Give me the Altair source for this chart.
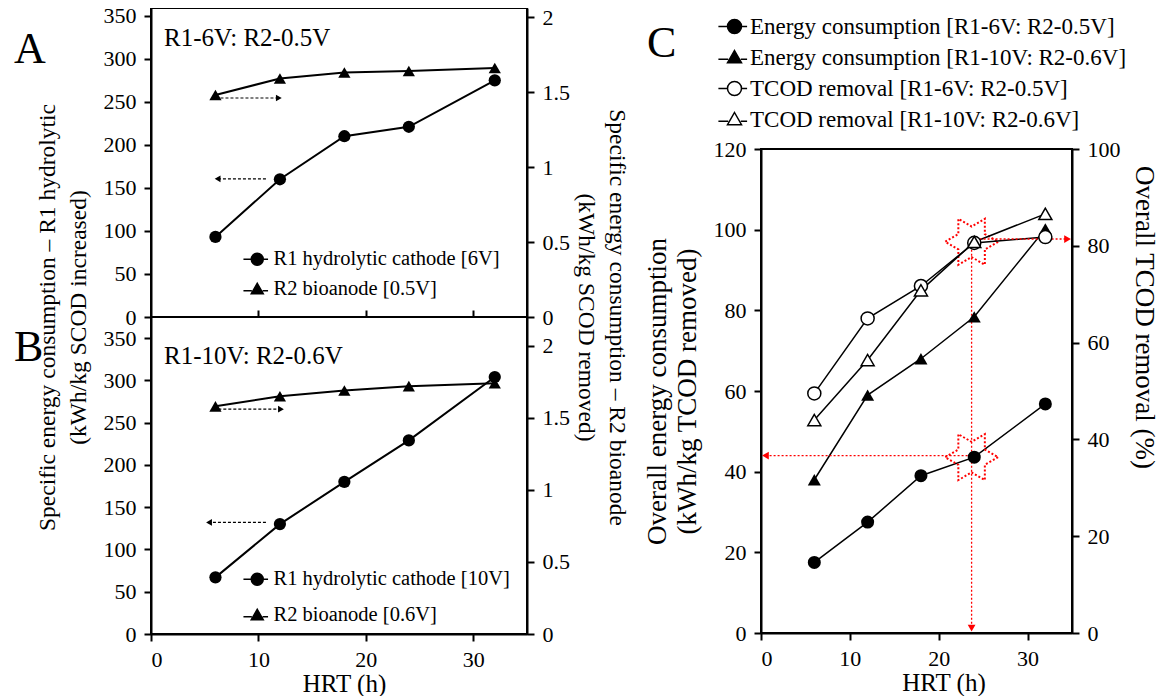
import altair as alt
import pandas as pd

FONT = "Liberation Serif, Times New Roman, Times, serif"

# ---------------- data ----------------
hrt = [6, 12, 18, 24, 32]

a_r1 = [93, 160, 210, 221, 275]          # left axis, panel A
a_r2 = [1.48, 1.59, 1.63, 1.64, 1.66]    # right axis, panel A
b_r1 = [67, 130, 180, 229, 304]          # left axis, panel B
b_r2 = [1.58, 1.65, 1.69, 1.72, 1.74]    # right axis, panel B

c_energy_6 = [17.5, 27.5, 39.0, 43.6, 56.8]
c_energy_10 = [38.0, 59.0, 68.0, 78.4, 100.2]
c_tcod_6 = [49.5, 65.0, 71.7, 80.6, 81.8]
c_tcod_10 = [44.0, 56.4, 70.8, 80.8, 86.6]

x_ticks = [0, 10, 20, 30]
ab_left_ticks = [0, 50, 100, 150, 200, 250, 300, 350]
ab_right_ticks = [0, 0.5, 1, 1.5, 2]
c_left_ticks = [0, 20, 40, 60, 80, 100, 120]
c_right_ticks = [0, 20, 40, 60, 80, 100]

a_labels = ["R1 hydrolytic cathode [6V]", "R2 bioanode [0.5V]"]
b_labels = ["R1 hydrolytic cathode [10V]", "R2 bioanode [0.6V]"]
c_labels = [
    "Energy consumption [R1-6V: R2-0.5V]",
    "Energy consumption [R1-10V: R2-0.6V]",
    "TCOD removal [R1-6V: R2-0.5V]",
    "TCOD removal [R1-10V: R2-0.6V]",
]
a_note = ["R1-6V: R2-0.5V"]
b_note = ["R1-10V: R2-0.6V"]

# guide arrows in data units: [x_start, x_end, y]
a_arrow_left = [10.7, 6.2, 160.5]
a_arrow_right = [6.0, 11.9, 1.46]
b_arrow_left = [10.7, 5.4, 132]
b_arrow_right = [5.8, 12.1, 1.56]
# panel C annotations
c_mark_x = [23.7, 23.7]
c_mark_y = [97.0, 43.6]
c_arrow_energy = [23.7, 0.5, 44.0]
c_arrow_tcod = [23.7, 34.5, 81.4]
c_arrow_down = [23.7, 96.0, 1.2]

# ---------------- shapes ----------------
CIRC_L = "M-2.3,0H-1M1,0H1.8M-1,0A1,1 0 1,1 1,0A1,1 0 1,1 -1,0Z"
TRI_L = "M-2.3,0.25H-0.9M0.9,0.25H1.8M0,-1L1,0.75L-1,0.75Z"
STAR = ("M1,0L0.5,0.289L0.5,0.866L0,0.577L-0.5,0.866L-0.5,0.289L-1,0"
        "L-0.5,-0.289L-0.5,-0.866L0,-0.577L0.5,-0.866L0.5,-0.289Z")

W_AB, H_A, H_B = 376, 309, 317
W_C, H_C = 311, 484
SPACER_H = 141

XS = alt.Scale(domain=[0, 35], nice=False)


def text_layer(txt, x, y, size, align="left", baseline="alphabetic"):
    return alt.Chart(pd.DataFrame({"t": txt})).mark_text(
        font=FONT, fontSize=size, color="black", align=align, baseline=baseline
    ).encode(text="t:N", x=alt.value(x), y=alt.value(y))


def arrow_h(vals, xenc_axis, yscale, yaxis, color, dash, head, head_size, width):
    df = pd.DataFrame({"x0": [vals[0]], "x1": [vals[1]], "y": [vals[2]]})
    rule = alt.Chart(df).mark_rule(color=color, strokeDash=dash, strokeWidth=width).encode(
        x=alt.X("x0:Q", scale=XS, axis=xenc_axis),
        x2="x1:Q",
        y=alt.Y("y:Q", scale=yscale, axis=yaxis),
    )
    tip = alt.Chart(df).mark_point(shape=head, filled=True, color=color, size=head_size, opacity=1).encode(
        x=alt.X("x1:Q", scale=XS, axis=xenc_axis),
        y=alt.Y("y:Q", scale=yscale, axis=yaxis),
    )
    return [rule, tip]


def panel_ab(r1, r2, left_max, right_max, height, labels, arr_l, arr_r, note,
             letter, letter_y, note_y, legend_y, legend_pad, bottom):
    df = pd.DataFrame({"hrt": hrt, "r1": r1, "r2": r2})
    ysl = alt.Scale(domain=[0, left_max], nice=False)
    ysr = alt.Scale(domain=[0, right_max], nice=False)
    if bottom:
        xax_l = alt.Axis(values=x_ticks, title="HRT (h)", titleFontSize=25,
                         titlePadding=1, labelPadding=8, titleX=W_AB / 2 + 5)
        xax_r = alt.Axis(orient="top", values=[10, 20, 30], labels=False,
                         domain=False, title=None)
        yax_l = alt.Axis(values=ab_left_ticks, title=None)
        yax_r = alt.Axis(orient="right", values=ab_right_ticks, format="~g", title=None)
    else:
        xax_l = None
        xax_r = None
        yax_l = alt.Axis(
            values=ab_left_ticks,
            title=["Specific energy consumption – R1 hydrolytic", "(kWh/kg SCOD increased)"],
            titleX=-104, titleY=height, titleAngle=270, titleBaseline="middle",
            titleAlign="center", titleLineHeight=31,
        )
        yax_r = alt.Axis(
            orient="right", values=ab_right_ticks, format="~g",
            title=["Specific energy consumption – R2 bioanode", "(kWh/kg SCOD removed)"],
            titleX=89, titleY=height, titleAngle=90, titleBaseline="middle",
            titleAlign="center", titleLineHeight=31,
        )
    X1 = alt.X("hrt:Q", scale=XS, axis=xax_l)
    X2 = alt.X("hrt:Q", scale=XS, axis=xax_r)
    base = alt.Chart(df)
    leg = alt.Legend(
        orient="none", legendX=96, legendY=legend_y, title=None,
        labelFont=FONT, labelFontSize=20.5, labelColor="black", labelLimit=600,
        symbolSize=144, symbolStrokeWidth=1.5,
        labelOffset=6, rowPadding=legend_pad, padding=0,
    )
    legend_layer = alt.Chart(pd.DataFrame({"series": labels})).mark_point(
        filled=False, fill="black", stroke="black", strokeWidth=1.5, opacity=1
    ).encode(
        shape=alt.Shape("series:N", scale=alt.Scale(domain=labels, range=[CIRC_L, TRI_L]), legend=leg)
    ).transform_filter("false")

    left = alt.layer(
        base.mark_line(color="black", strokeWidth=2).encode(
            x=X1, y=alt.Y("r1:Q", scale=ysl, axis=yax_l)),
        base.mark_point(shape="circle", filled=True, color="black", size=150, opacity=1).encode(
            x=X1, y=alt.Y("r1:Q", scale=ysl, axis=yax_l)),
        *arrow_h(arr_l, xax_l, ysl, yax_l, "black", [3, 2], "triangle-left", 45, 1.2),
        legend_layer,
        text_layer(note, 13, note_y, 25),
        text_layer([letter], -137, letter_y, 44),
    )
    right = alt.layer(
        base.mark_line(color="black", strokeWidth=2).encode(
            x=X2, y=alt.Y("r2:Q", scale=ysr, axis=yax_r)),
        base.mark_point(shape="triangle-up", filled=True, color="black", size=150, opacity=1).encode(
            x=X2, y=alt.Y("r2:Q", scale=ysr, axis=yax_r)),
        *arrow_h(arr_r, xax_r, ysr, yax_r, "black", [3, 2], "triangle-right", 45, 1.2),
    )
    return alt.layer(left, right).resolve_scale(x="independent", y="independent").properties(
        width=W_AB, height=height)


chart_a = panel_ab(a_r1, a_r2, 359, 2.06, H_A, a_labels, a_arrow_left, a_arrow_right,
                   a_note, "A", 55, 38, 241, 9, False)
chart_b = panel_ab(b_r1, b_r2, 375, 2.2, H_B, b_labels, b_arrow_left, b_arrow_right,
                   b_note, "B", 44, 47, 252, 15, True)

# ---------------- panel C ----------------
dfc = pd.DataFrame({"hrt": hrt, "e6": c_energy_6, "e10": c_energy_10,
                    "t6": c_tcod_6, "t10": c_tcod_10})
ycl = alt.Scale(domain=[0, 120], nice=False)
ycr = alt.Scale(domain=[0, 100], nice=False)
xc_axis = alt.Axis(values=x_ticks, title="HRT (h)", titleFontSize=25, titlePadding=1,
                   labelPadding=8, titleX=W_C / 2 + 27)
ycl_axis = alt.Axis(values=c_left_ticks,
                    title=["Overall energy consumption", "(kWh/kg TCOD removed)"],
                    titleFontSize=27,
                    titleX=-104, titleY=H_C / 2, titleAngle=270, titleBaseline="middle",
                    titleAlign="center", titleLineHeight=30)
ycr_axis = alt.Axis(orient="right", values=c_right_ticks, title="Overall TCOD removal (%)",
                    titleFontSize=27,
                    titleX=71, titleY=168, titleAngle=90, titleBaseline="middle",
                    titleAlign="center")
XC = alt.X("hrt:Q", scale=XS, axis=xc_axis)
XCR = alt.X("hrt:Q", scale=XS, axis=None)
basec = alt.Chart(dfc)

leg_c = alt.Legend(
    orient="none", legendX=-38, legendY=-134, title=None,
    labelFont=FONT, labelFontSize=23, labelColor="black", labelLimit=600,
    symbolSize=196, symbolStrokeWidth=1.5,
    labelOffset=4, rowPadding=7, padding=0,
)
c_legend_layer = alt.Chart(pd.DataFrame({"series": c_labels})).mark_point(
    filled=False, stroke="black", strokeWidth=1.5, opacity=1
).encode(
    shape=alt.Shape("series:N", scale=alt.Scale(domain=c_labels, range=[CIRC_L, TRI_L, CIRC_L, TRI_L]), legend=leg_c),
    fill=alt.Fill("series:N", scale=alt.Scale(domain=c_labels, range=["black", "black", "white", "white"]), legend=leg_c),
).transform_filter("false")

marks_df = pd.DataFrame({"x": c_mark_x, "y": c_mark_y})
down_df = pd.DataFrame({"x": [c_arrow_down[0]], "y0": [c_arrow_down[1]], "y1": [c_arrow_down[2]]})

c_left = alt.layer(
    basec.mark_line(color="black", strokeWidth=1.5).encode(x=XC, y=alt.Y("e6:Q", scale=ycl, axis=ycl_axis)),
    basec.mark_line(color="black", strokeWidth=1.5).encode(x=XC, y=alt.Y("e10:Q", scale=ycl, axis=ycl_axis)),
    *arrow_h(c_arrow_energy, xc_axis, ycl, ycl_axis, "#ff0000", [2, 2], "triangle-left", 60, 1.3),
    alt.Chart(down_df).mark_rule(color="#ff0000", strokeDash=[2, 2], strokeWidth=1.3).encode(
        x=alt.X("x:Q", scale=XS, axis=xc_axis), y=alt.Y("y0:Q", scale=ycl, axis=ycl_axis), y2="y1:Q"),
    alt.Chart(down_df).mark_point(shape="triangle-down", filled=True, color="#ff0000", size=60, opacity=1).encode(
        x=alt.X("x:Q", scale=XS, axis=xc_axis), y=alt.Y("y1:Q", scale=ycl, axis=ycl_axis)),
    alt.Chart(marks_df).mark_point(shape=STAR, filled=False, stroke="#ff0000", strokeWidth=2,
                                   strokeDash=[2, 2], size=2809, opacity=1).encode(
        x=alt.X("x:Q", scale=XS, axis=xc_axis), y=alt.Y("y:Q", scale=ycl, axis=ycl_axis)),
    basec.mark_point(shape="circle", filled=True, color="black", size=170, opacity=1).encode(
        x=XC, y=alt.Y("e6:Q", scale=ycl, axis=ycl_axis)),
    basec.mark_point(shape="triangle-up", filled=True, color="black", size=170, opacity=1).encode(
        x=XC, y=alt.Y("e10:Q", scale=ycl, axis=ycl_axis)),
    c_legend_layer,
    text_layer(["C"], -114, -92, 44),
)
c_right = alt.layer(
    basec.mark_line(color="black", strokeWidth=1.5).encode(x=XCR, y=alt.Y("t6:Q", scale=ycr, axis=ycr_axis)),
    basec.mark_line(color="black", strokeWidth=1.5).encode(x=XCR, y=alt.Y("t10:Q", scale=ycr, axis=ycr_axis)),
    *arrow_h(c_arrow_tcod, None, ycr, ycr_axis, "#ff0000", [2, 2], "triangle-right", 60, 1.3),
    basec.mark_point(shape="circle", filled=True, fill="white", stroke="black", strokeWidth=1.5,
                     size=170, opacity=1).encode(x=XCR, y=alt.Y("t6:Q", scale=ycr, axis=ycr_axis)),
    basec.mark_point(shape="triangle-up", filled=True, fill="white", stroke="black", strokeWidth=1.5,
                     size=170, opacity=1).encode(x=XCR, y=alt.Y("t10:Q", scale=ycr, axis=ycr_axis)),
)
chart_c = alt.layer(c_left, c_right).resolve_scale(x="independent", y="independent").properties(
    width=W_C, height=H_C)

spacer = alt.Chart(pd.DataFrame({"t": [""]})).mark_text().encode(text="t:N").properties(
    width=W_C, height=SPACER_H, view=alt.ViewBackground(stroke="transparent"))

left_col = alt.vconcat(chart_a, chart_b, spacing=0, bounds="flush").resolve_scale(
    shape="independent").resolve_legend(shape="independent")
right_col = alt.vconcat(spacer, chart_c, spacing=0, bounds="flush").resolve_scale(
    shape="independent", fill="independent").resolve_legend(shape="independent", fill="independent")

chart = alt.hconcat(left_col, right_col, spacing=13).resolve_scale(
    shape="independent", fill="independent"
).resolve_legend(
    shape="independent", fill="independent"
).properties(
    padding={"left": 5, "top": -5, "right": 0, "bottom": 0},
    background="white",
).configure_view(
    stroke="black", strokeWidth=2
).configure_axis(
    labelFont=FONT, labelFontSize=22, labelColor="black",
    titleFont=FONT, titleFontSize=23.5, titleFontWeight="normal", titleColor="black",
    domainColor="black", domainWidth=2, tickColor="black", tickWidth=2, tickSize=7,
    grid=False, labelPadding=8,
)

chart.save("out.html", embed_options={"renderer": "svg", "actions": False})
